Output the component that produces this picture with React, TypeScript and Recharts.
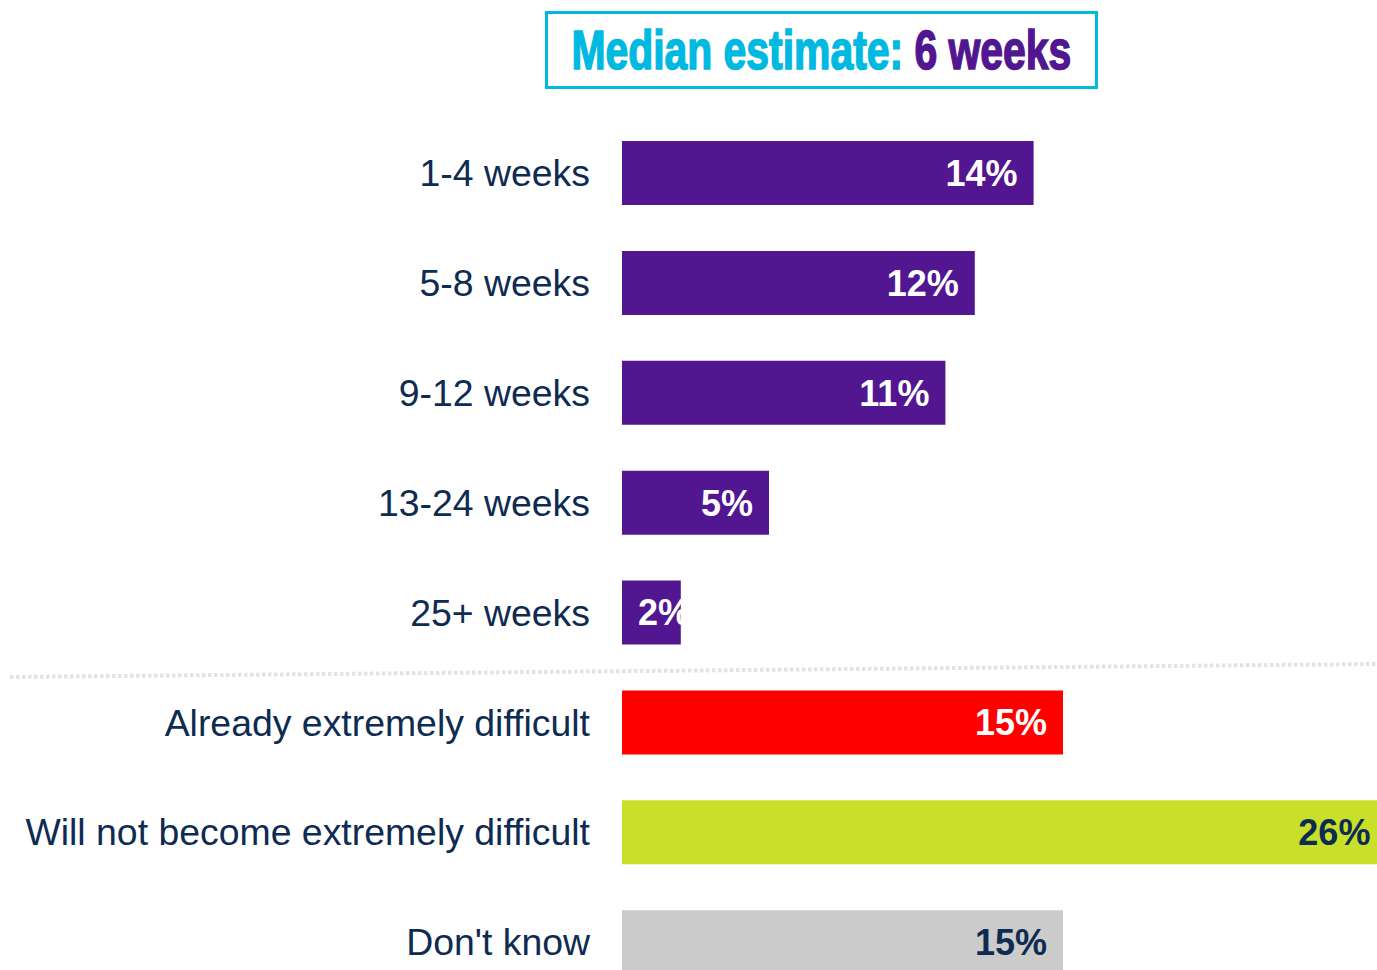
import { BarChart, Bar, XAxis, YAxis, Cell, LabelList } from 'recharts';

const categories = [
  '1-4 weeks',
  '5-8 weeks',
  '9-12 weeks',
  '13-24 weeks',
  '25+ weeks',
  'Already extremely difficult',
  'Will not become extremely difficult',
  "Don't know",
];
const values = [14, 12, 11, 5, 2, 15, 26, 15];
const barColors = ['#511690', '#511690', '#511690', '#511690', '#511690', '#ff0000', '#c8e029', '#cbcbcb'];
const labelColors = ['#ffffff', '#ffffff', '#ffffff', '#ffffff', '#ffffff', '#ffffff', '#0e2b52', '#0e2b52'];

const data = categories.map((name, i) => ({ name, value: values[i], idx: i }));

const NAVY = '#0e2b52';
const CYAN = '#00b9e1';

const renderValue = (props: any) => {
  const { x, y, width, height, value, index } = props;
  const small = width < 120;
  return (
    <text
      x={small ? x + 16 : x + width - 16}
      y={y + height / 2}
      dy="0.36em"
      textAnchor={small ? 'start' : 'end'}
      fill={labelColors[index]}
      fontFamily="'Liberation Sans', Arial, sans-serif"
      fontWeight="bold"
      fontSize={36}
    >
      {value}%
    </text>
  );
};

export default function App() {
  return (
    <div style={{ width: 1377, height: 970, overflow: 'hidden', position: 'relative', background: '#fff' }}>
      <style>{'body{margin:0}'}</style>
      <div
        style={{
          position: 'absolute',
          left: 545,
          top: 11,
          width: 553,
          height: 78,
          border: `3px solid ${CYAN}`,
          boxSizing: 'border-box',
          display: 'flex',
          alignItems: 'center',
          justifyContent: 'center',
          zIndex: 2,
        }}
      >
        <span
          style={{
            display: 'inline-block',
            whiteSpace: 'nowrap',
            fontFamily: "'Liberation Sans', Arial, sans-serif",
            fontWeight: 'bold',
            fontSize: 56,
            lineHeight: 1,
            transform: 'scaleX(0.73)',
            transformOrigin: 'center',
          }}
        >
          <span style={{ color: CYAN, WebkitTextStroke: `1.6px ${CYAN}` }}>Median estimate: </span>
          <span style={{ color: '#511690', WebkitTextStroke: '1.6px #511690' }}>6 weeks</span>
        </span>
      </div>
      <svg
        width={1377}
        height={970}
        style={{ position: 'absolute', left: 0, top: 0, pointerEvents: 'none', zIndex: 1 }}
      >
        <line x1={10} y1={677} x2={1377} y2={664} stroke="#e3e3e3" strokeWidth={4} strokeDasharray="3.5 2.5" />
      </svg>
      <BarChart
        width={1504}
        height={997}
        data={data}
        layout="vertical"
        margin={{ top: 118, right: 0, bottom: 0, left: 0 }}
        barSize={64}
      >
        <XAxis type="number" domain={[0, 30]} hide />
        <YAxis
          type="category"
          dataKey="name"
          width={622}
          axisLine={false}
          tickLine={false}
          tickSize={0}
          tickMargin={32}
          interval={0}
          tick={{ fill: NAVY, fontSize: 37.4, fontFamily: "'Liberation Sans', Arial, sans-serif" }}
        />
        <Bar dataKey="value" isAnimationActive={false}>
          {data.map((d) => (
            <Cell key={d.name} fill={barColors[d.idx]} />
          ))}
          <LabelList dataKey="value" content={renderValue} />
        </Bar>
      </BarChart>
    </div>
  );
}
